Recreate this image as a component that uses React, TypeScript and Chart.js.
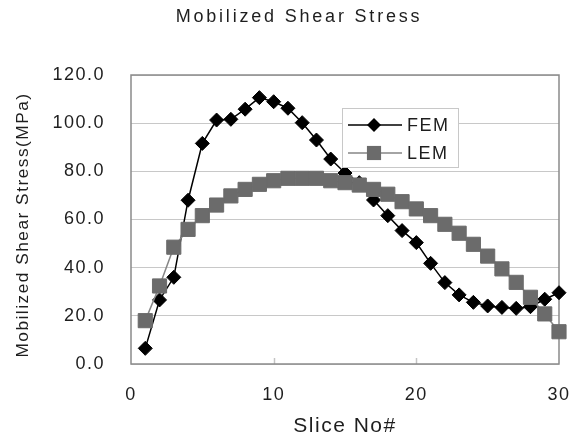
import React, { useEffect, useRef } from 'react';
import { Chart, registerables } from 'chart.js';

Chart.register(...registerables);

const chartTitle = 'Mobilized Shear Stress';
const xAxisTitle = 'Slice No#';
const yAxisTitle = 'Mobilized Shear Stress(MPa)';

const slices = [1, 2, 3, 4, 5, 6, 7, 8, 9, 10, 11, 12, 13, 14, 15, 16, 17, 18, 19, 20, 21, 22, 23, 24, 25, 26, 27, 28, 29, 30];
const femValues = [6.5, 26.6, 36, 68, 91.6, 101.3, 101.6, 105.8, 110.6, 108.9, 106.2, 100.2, 93, 85.1, 79.3, 75.3, 68.1, 61.6, 55.4, 50.4, 41.8, 33.8, 28.7, 25.6, 24.1, 23.5, 23.1, 23.8, 26.9, 29.6];
const lemValues = [18, 32.4, 48.5, 55.9, 61.6, 66, 69.8, 72.5, 74.6, 76.1, 77.1, 77.1, 77.1, 76.1, 75.3, 74.3, 72.5, 70.5, 67.4, 64.4, 61.6, 58, 54.3, 49.7, 44.8, 39.5, 33.9, 27.7, 20.8, 13.4];

const FONT = "'Liberation Sans', Arial, sans-serif";
const TEXT = '#1e1e1e';
const FEM_COLOR = '#000000';
const LEM_FILL = '#6b6b6b';
const LEM_LINE = '#868686';

const customPlugin = {
  id: 'customDecor',
  beforeUpdate(chart: any) {
    chart.ctx.letterSpacing = '1.5px';
  },
  beforeDraw(chart: any) {
    const ctx = chart.ctx;
    ctx.letterSpacing = '1.5px';
    ctx.save();
    ctx.fillStyle = '#ffffff';
    ctx.fillRect(0, 0, chart.width, chart.height);
    ctx.restore();
  },
  beforeDatasetsDraw(chart: any) {
    const ctx = chart.ctx;
    const { left, top, right, bottom } = chart.chartArea;
    const xs = chart.scales.x;
    ctx.save();
    ctx.strokeStyle = '#c4c4c4';
    ctx.lineWidth = 1.5;
    xs.ticks.forEach((t: any, i: number) => {
      if (i === 0 || i === xs.ticks.length - 1) return;
      const px = Math.round(xs.getPixelForValue(t.value)) + 0.5;
      ctx.beginPath();
      ctx.moveTo(px, bottom);
      ctx.lineTo(px, bottom - 6);
      ctx.stroke();
    });
    ctx.strokeStyle = '#8a8a8a';
    ctx.lineWidth = 1.5;
    ctx.strokeRect(left, top, right - left, bottom - top);
    ctx.restore();
  },
  afterDraw(chart: any) {
    const ctx = chart.ctx;
    ctx.save();
    // chart title
    ctx.letterSpacing = '2.8px';
    ctx.font = `18px ${FONT}`;
    ctx.fillStyle = TEXT;
    ctx.textAlign = 'center';
    ctx.textBaseline = 'middle';
    ctx.fillText(chartTitle, 299, 17);

    // y axis title
    ctx.save();
    ctx.letterSpacing = '1.5px';
    ctx.font = `17.3px ${FONT}`;
    ctx.translate(23, 225);
    ctx.rotate(-Math.PI / 2);
    ctx.fillText(yAxisTitle, 0, 0);
    ctx.restore();

    // legend
    ctx.letterSpacing = '1.5px';
    const lx = 342, ly = 108, lw = 116, lh = 59;
    ctx.fillStyle = '#ffffff';
    ctx.fillRect(lx, ly, lw, lh);
    ctx.strokeStyle = '#c8c8c8';
    ctx.lineWidth = 1;
    ctx.strokeRect(lx + 0.5, ly + 0.5, lw, lh);
    chart.data.datasets.forEach((ds: any, i: number) => {
      const y = ly + 17 + i * 28;
      ctx.strokeStyle = ds.borderColor;
      ctx.lineWidth = 1.5;
      ctx.beginPath();
      ctx.moveTo(lx + 6, y);
      ctx.lineTo(lx + 60, y);
      ctx.stroke();
      const mx = lx + 32;
      ctx.fillStyle = ds.pointBackgroundColor;
      ctx.beginPath();
      if (ds.pointStyle === 'rectRot') {
        const r = ds.pointRadius;
        ctx.moveTo(mx, y - r);
        ctx.lineTo(mx + r, y);
        ctx.lineTo(mx, y + r);
        ctx.lineTo(mx - r, y);
        ctx.closePath();
      } else {
        const h = ds.pointRadius * Math.SQRT1_2;
        ctx.rect(mx - h, y - h, 2 * h, 2 * h);
      }
      ctx.fill();
      ctx.fillStyle = TEXT;
      ctx.font = `18px ${FONT}`;
      ctx.textAlign = 'left';
      ctx.textBaseline = 'middle';
      ctx.fillText(ds.label, lx + 65, y + 1);
    });
    ctx.restore();
    ctx.letterSpacing = '1.5px';
  },
};

export default function App() {
  const canvasRef = useRef<HTMLCanvasElement | null>(null);

  useEffect(() => {
    const canvas = canvasRef.current;
    if (!canvas) return;
    const chart = new Chart(canvas, {
      type: 'line',
      data: {
        datasets: [
          {
            label: 'FEM',
            data: slices.map((s, i) => ({ x: s, y: femValues[i] })),
            borderColor: FEM_COLOR,
            backgroundColor: FEM_COLOR,
            pointBackgroundColor: FEM_COLOR,
            pointBorderColor: FEM_COLOR,
            pointStyle: 'rectRot',
            pointRadius: 7,
            pointBorderWidth: 1,
            borderWidth: 1.5,
            tension: 0,
            clip: false,
            order: 2,
          } as any,
          {
            label: 'LEM',
            data: slices.map((s, i) => ({ x: s, y: lemValues[i] })),
            borderColor: LEM_LINE,
            backgroundColor: LEM_FILL,
            pointBackgroundColor: LEM_FILL,
            pointBorderColor: LEM_FILL,
            pointStyle: 'rect',
            pointRadius: 10,
            pointBorderWidth: 1,
            borderWidth: 1.5,
            tension: 0,
            clip: false,
            order: 1,
          } as any,
        ],
      },
      options: {
        responsive: false,
        animation: false,
        devicePixelRatio: 1,
        layout: { padding: { top: 75, right: 9, left: 0, bottom: 0 } },
        plugins: {
          legend: { display: false },
          title: { display: false },
          tooltip: { enabled: false },
        },
        scales: {
          x: {
            type: 'linear',
            min: 0,
            max: 30,
            ticks: {
              stepSize: 10,
              color: TEXT,
              padding: 20,
              font: { family: FONT, size: 18 },
              maxRotation: 0,
            },
            grid: { display: false, drawTicks: false },
            border: { display: false },
            title: {
              display: true,
              text: xAxisTitle,
              color: TEXT,
              font: { family: FONT, size: 21 },
              padding: { top: 0, bottom: 0 },
            },
            afterFit(scale: any) {
              scale.height = 75;
              scale.paddingRight = 0;
              scale.paddingLeft = 0;
            },
          },
          y: {
            type: 'linear',
            min: 0,
            max: 120,
            ticks: {
              stepSize: 20,
              color: TEXT,
              padding: 26,
              font: { family: FONT, size: 18 },
              callback: (v: any) => Number(v).toFixed(1),
            },
            grid: { color: '#c8c8c8', lineWidth: 1, drawTicks: false },
            border: { display: false },
            title: { display: false },
            afterFit(scale: any) {
              scale.width = 131;
            },
          },
        },
      },
      plugins: [customPlugin],
    });
    return () => chart.destroy();
  }, []);

  return (
    <div style={{ position: 'fixed', left: 0, top: 0, width: 570, height: 439, background: '#fff' }}>
      <canvas ref={canvasRef} width={570} height={439} style={{ width: 570, height: 439, display: 'block' }} />
    </div>
  );
}
